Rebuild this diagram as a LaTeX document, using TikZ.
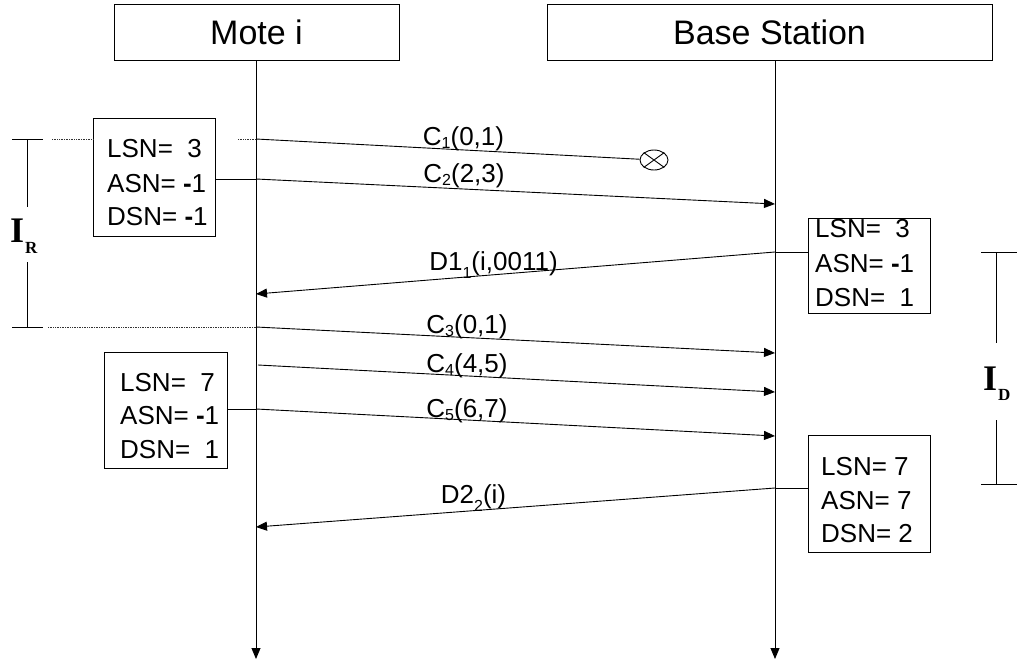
\documentclass[tikz,border=0pt]{standalone}
\usepackage{fontspec}
\setmainfont{Liberation Sans}
\newfontfamily\labelserif{Liberation Serif}
\usetikzlibrary{arrows.meta,shapes.geometric}

% lowered index used in the message labels
\newcommand{\lowidx}[2][3pt]{\raisebox{-#1}{\fontsize{16}{16}\selectfont #2}}

\tikzset{
  ln/.style={line width=0.9pt, black},
  msg/.style={ln, -{Triangle[length=11pt,width=9pt]}},
  dots/.style={line width=0.7pt, densely dotted, black!80},
  headbox/.style={draw, line width=1pt, minimum height=56pt, inner sep=0pt,
    font=\fontsize{34}{34}\selectfont},
  statebox/.style={draw, line width=1pt, fill=white, anchor=north west, inner sep=0pt},
  statetxt/.style={anchor=base west, inner sep=0pt, font=\fontsize{26}{26}\selectfont},
  msglabel/.style={anchor=base, inner sep=0pt, font=\fontsize{26}{26}\selectfont},
  bigI/.style={anchor=base west, inner sep=0pt, font=\labelserif\bfseries\fontsize{36}{36}\selectfont},
  smallI/.style={anchor=base west, inner sep=0pt, font=\labelserif\bfseries\fontsize{17}{17}\selectfont},
}

\begin{document}
\begin{tikzpicture}[x=1pt,y=-1pt]
\useasboundingbox (0,0) rectangle (1017,662);

% participants
\node[headbox, minimum width=285pt] (mote) at (256.5,32) {Mote i};
\node[headbox, minimum width=445pt] (base) at (769.5,32) {Base Station};

% lifelines
\coordinate (mtop) at (256,60);  \coordinate (mbot) at (256,659);
\coordinate (btop) at (775,60);  \coordinate (bbot) at (775,659);
\draw[msg] (mtop) -- (mbot);
\draw[msg] (btop) -- (bbot);

% state boxes
\node[statebox, minimum width=122pt, minimum height=118pt] (s1) at (93,118) {};
\node[statetxt] (s1a) at (107,157) {LSN=\ \ 3};
\node[statetxt] (s1b) at (107,192) {ASN= {\bfseries -}1};
\node[statetxt] (s1c) at (107,225) {DSN= {\bfseries -}1};

\node[statebox, minimum width=122pt, minimum height=95pt] (s2) at (808,218) {};
\node[statetxt] (s2a) at (815,237) {LSN=\ \ 3};
\node[statetxt] (s2b) at (815,272) {ASN= {\bfseries -}1};
\node[statetxt] (s2c) at (815,306) {DSN=\ \ 1};

\node[statebox, minimum width=123pt, minimum height=116pt] (s3) at (104,352) {};
\node[statetxt] (s3a) at (120,391) {LSN=\ \ 7};
\node[statetxt] (s3b) at (120,424) {ASN= {\bfseries -}1};
\node[statetxt] (s3c) at (120,458) {DSN=\ \ 1};

\node[statebox, minimum width=122pt, minimum height=117pt] (s4) at (808,435) {};
\node[statetxt] (s4a) at (821,475) {LSN= 7};
\node[statetxt] (s4b) at (821,509) {ASN= 7};
\node[statetxt] (s4c) at (821,542) {DSN= 2};

% message end points
\coordinate (c1s) at (256,139);
\node[draw, ellipse, line width=0.9pt, minimum width=28pt, minimum height=20pt, inner sep=0pt] (lost) at (654,160) {};
\draw[ln] (lost.north west) -- (lost.south east) (lost.north east) -- (lost.south west);

\coordinate (c2s) at (256,179);  \coordinate (c2e) at (775,204);
\coordinate (d1s) at (775,252);  \coordinate (d1e) at (256,294);
\coordinate (c3s) at (256,327);  \coordinate (c3e) at (775,353);
\coordinate (c4s) at (258,365);  \coordinate (c4e) at (775,392);
\coordinate (c5s) at (256,409);  \coordinate (c5e) at (775,436);
\coordinate (d2s) at (775,488);  \coordinate (d2e) at (256,527);

% ties from the state boxes to the lifelines
\coordinate (r1a) at (52,139);   \coordinate (r1b) at (238,139);
\coordinate (r2a) at (48,327);
\draw[dots] (r1a) -- (s1.west |- r1a);
\draw[dots] (r1b) -- (c1s);
\draw[dots] (r2a) -- (c3s);
\draw[ln] (s1.east |- c2s) -- (c2s);
\draw[ln] (s2.west |- d1s) -- (d1s);
\draw[ln] (s3.east |- c5s) -- (c5s);
\draw[ln] (s4.west |- d2s) -- (d2s);

% messages
\draw[ln]  (c1s) -- (lost);
\draw[msg] (c2s) -- (c2e);
\draw[msg] (d1s) -- (d1e);
\draw[msg] (c3s) -- (c3e);
\draw[msg] (c4s) -- (c4e);
\draw[msg] (c5s) -- (c5e);
\draw[msg] (d2s) -- (d2e);

% message labels
\node[msglabel] (l1) at (463.5,145) {C\lowidx{1}(0,1)};
\node[msglabel] (l2) at (464,182) {C\lowidx{2}(2,3)};
\node[msglabel] (l3) at (493.5,270) {D1\lowidx[8pt]{1}(i,0011)};
\node[msglabel] (l4) at (467,333) {C\lowidx{3}(0,1)};
\node[msglabel] (l5) at (467,372) {C\lowidx{4}(4,5)};
\node[msglabel] (l6) at (467,417) {C\lowidx{5}(6,7)};
\node[msglabel] (l7) at (473.5,503) {D2\lowidx[8pt]{2}(i)};

% interval I_R
\coordinate (irt) at (27,139);  \coordinate (irb) at (27,327);
\draw[ln] (12,139) -- (43,139);
\draw[ln] (12,327) -- (43,327);
\draw[ln] (irt) -- (27,207);
\draw[ln] (27,262) -- (irb);
\node[bigI] (ir) at (10,242) {I};
\node[smallI] (irs) at (25,253) {R};

% interval I_D
\coordinate (idt) at (996,252);  \coordinate (idb) at (996,484);
\draw[ln] (981,252) -- (1017,252);
\draw[ln] (981,484) -- (1017,484);
\draw[ln] (idt) -- (996,343);
\draw[ln] (996,420) -- (idb);
\node[bigI] (id) at (983,390) {I};
\node[smallI] (ids) at (998,400) {D};
\end{tikzpicture}
\end{document}
